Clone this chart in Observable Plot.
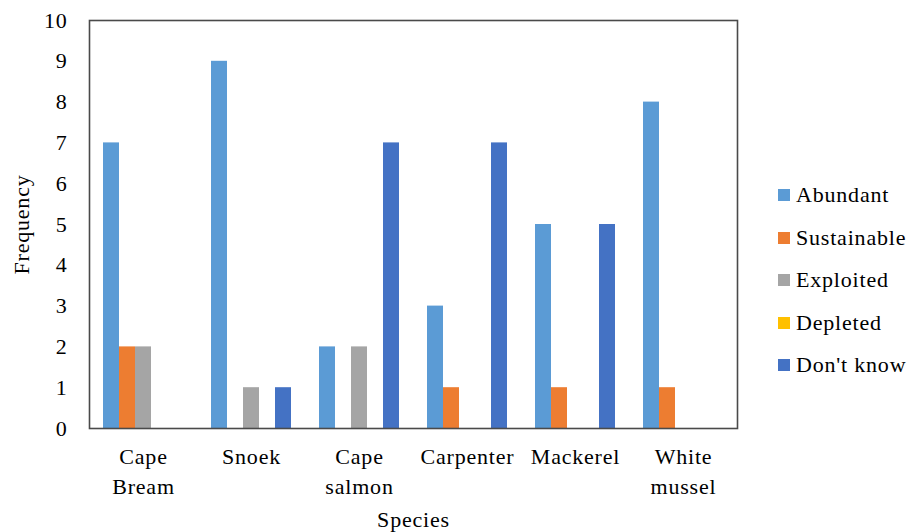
<!DOCTYPE html>
<html>
<head>
<meta charset="utf-8">
<script src="https://cdn.jsdelivr.net/npm/d3@7"></script>
<script src="https://cdn.jsdelivr.net/npm/@observablehq/plot@0.6"></script>
<style>
  body { margin: 0; background: #fff; }
  #wrap { position: relative; width: 909px; height: 532px; font-family: "Liberation Serif", "Times New Roman", serif; }
  #chart { position: absolute; left: 0; top: 0; }
  #legend { position: absolute; left: 778px; top: 174px; font-size: 22px; letter-spacing: 0.8px; color: #000; }
  .item { display: flex; align-items: center; height: 42.5px; }
  .sw { width: 12px; height: 12px; margin-right: 6px; }
</style>
</head>
<body>
<div id="wrap">
  <div id="chart"></div>
  <div id="legend"></div>
</div>
<script>
// Species surveyed and the perceived stock status reported for each
const species = ["Cape Bream", "Snoek", "Cape salmon", "Carpenter", "Mackerel", "White mussel"];
const speciesLabels = ["Cape\nBream", "Snoek", "Cape\nsalmon", "Carpenter", "Mackerel", "White\nmussel"];
const statuses = ["Abundant", "Sustainable", "Exploited", "Depleted", "Don't know"];
const colors = ["#5B9BD5", "#ED7D31", "#A5A5A5", "#FFC000", "#4472C4"];

// Frequency of each response, one array per status (in species order)
const abundant    = [7, 9, 2, 3, 5, 8];
const sustainable = [2, 0, 0, 1, 1, 1];
const exploited   = [2, 1, 2, 0, 0, 0];
const depleted    = [0, 0, 0, 0, 0, 0];
const dontKnow    = [0, 1, 7, 7, 5, 0];
const yTicks = [0, 1, 2, 3, 4, 5, 6, 7, 8, 9, 10];

const series = [abundant, sustainable, exploited, depleted, dontKnow];
const rows = [];
species.forEach((sp, i) => {
  statuses.forEach((st, j) => rows.push({species: sp, status: st, value: series[j][i]}));
});
const labelOf = new Map(species.map((s, i) => [s, speciesLabels[i]]));

const chart = Plot.plot({
  width: 760,
  height: 532,
  marginLeft: 89,
  marginRight: 23,
  marginTop: 20,
  marginBottom: 104,
  style: {fontFamily: "Liberation Serif, Times New Roman, serif", fontSize: "22px", letterSpacing: "0.8px", color: "#000", background: "#fff"},
  fx: {domain: species, padding: 0},
  x: {domain: statuses, paddingInner: 0, paddingOuter: 0.75, axis: null},
  y: {domain: [0, 10]},
  color: {domain: statuses, range: colors},
  marks: [
    Plot.axisY({ticks: yTicks, tickSize: 0, tickPadding: 22, label: "Frequency",
                labelAnchor: "center", labelArrow: "none", labelOffset: 76}),
    Plot.axisFx({anchor: "bottom", tickSize: 0, tickPadding: 15, lineHeight: 1.34, tickFormat: d => labelOf.get(d),
                 label: "Species", labelAnchor: "center", labelArrow: "none", labelOffset: 98}),
    Plot.barY(rows, {fx: "species", x: "status", y: "value", fill: "status"}),
    Plot.frame({facet: "super", stroke: "#4a4a4a", strokeWidth: 1.6})
  ]
});
document.getElementById("chart").appendChild(chart);

// Legend to the right of the plot area
const legend = d3.select("#legend");
statuses.forEach((st, i) => {
  const item = legend.append("div").attr("class", "item");
  item.append("div").attr("class", "sw").style("background", colors[i]);
  item.append("span").text(st);
});
</script>
</body>
</html>
